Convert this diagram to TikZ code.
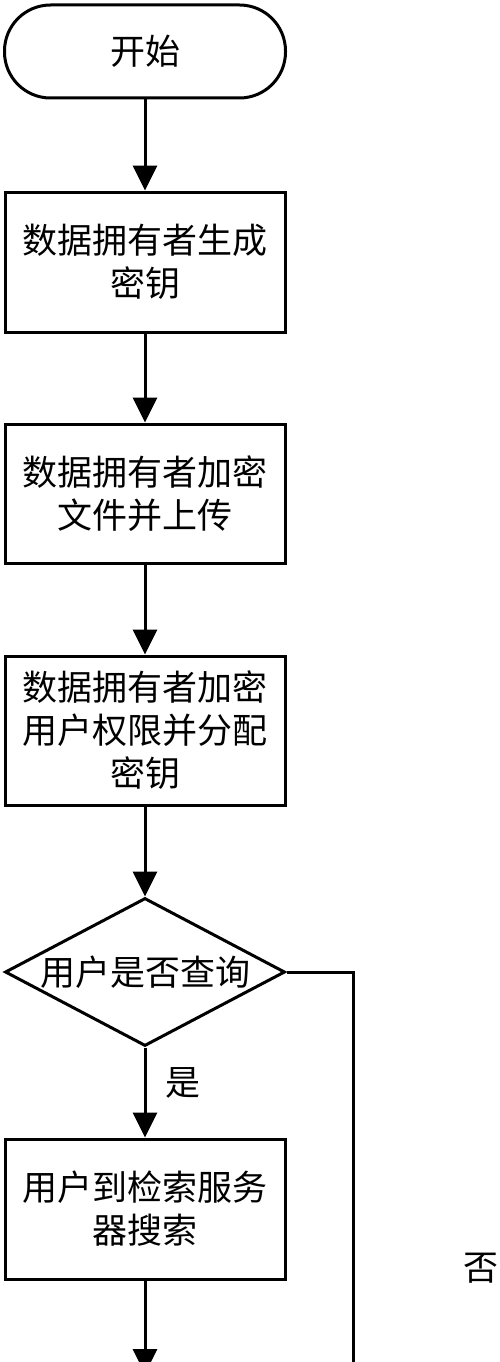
\documentclass[tikz,border=0pt]{standalone}
\usepackage{fontspec}
\newfontfamily\cjk{Noto Sans CJK SC}
\usetikzlibrary{shapes.geometric,arrows.meta}
\begin{document}
\begin{tikzpicture}[x=1pt,y=-1pt,
  every node/.style={font=\cjk\fontsize{35}{43}\selectfont},
  box/.style={draw,line width=3pt,minimum width=280pt,inner sep=0pt,align=center},
  term/.style={draw,line width=3pt,minimum width=281pt,minimum height=93pt,rounded corners=46pt,inner sep=0pt},
  decide/.style={draw,diamond,line width=3pt,shape aspect=1.89,minimum width=280pt,minimum height=148pt,inner sep=0pt},
  lbl/.style={inner sep=0pt},
  flow/.style={line width=3pt,-{Triangle[width=24pt,length=25pt]}},
  plain/.style={line width=3pt}]
\useasboundingbox (0,0) rectangle (500,1362);
\clip (0,0) rectangle (500,1362);
\fill[white] (0,0) rectangle (500,1362);
\node[term] (start) at (145,51.5) {开始};
\node[box,minimum height=140pt] (b1) at (145,262) {数据拥有者生成\\密钥};
\node[box,minimum height=139pt] (b2) at (145,493.5) {数据拥有者加密\\文件并上传};
\node[box,minimum height=149pt] (b3) at (145,730.5) {数据拥有者加密\\用户权限并分配\\密钥};
\node[decide] (d) at (145,972) {用户是否查询};
\node[box,minimum height=140pt] (b4) at (145,1209) {用户到检索服务\\器搜索};
\node[lbl] (yes) at (183,1083) {是};
\node[lbl] (no) at (481,1268) {否};
\coordinate (bot) at (145,1374);
\coordinate (rc) at (353,972);
\coordinate (rbot) at (353,1370);
\draw[flow] (start) -- (b1);
\draw[flow] (b1) -- (b2);
\draw[flow] (b2) -- (b3);
\draw[flow] (b3) -- (d);
\draw[flow] (d) -- (b4);
\draw[flow] (b4) -- (bot);
\draw[plain] (d.east) -- (rc) -- (rbot);
\end{tikzpicture}
\end{document}
